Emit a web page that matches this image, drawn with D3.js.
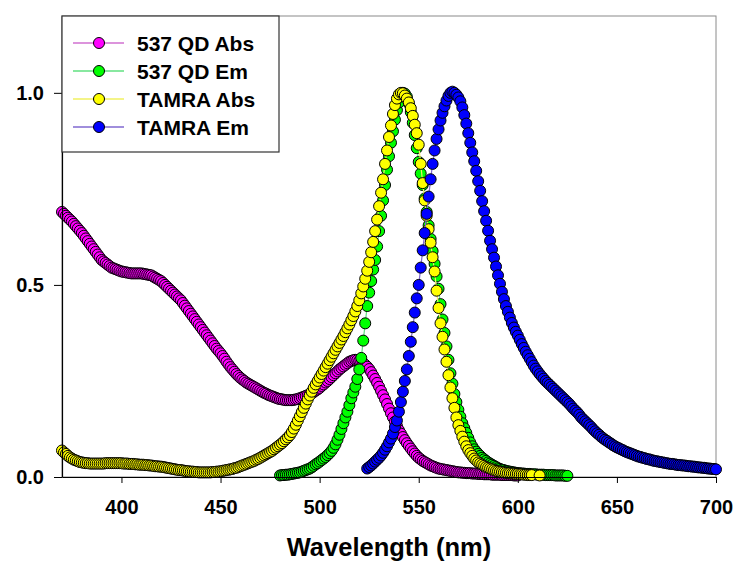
<!DOCTYPE html>
<html>
<head>
<meta charset="utf-8">
<script src="https://cdn.jsdelivr.net/npm/d3@7.9.0/dist/d3.min.js"></script>
<style>
  body { margin: 0; background: #fff; }
  svg text { font-family: "Liberation Sans", Arial, sans-serif; font-weight: bold; fill: #000; }
</style>
</head>
<body>
<svg id="chart" width="735" height="564"></svg>
<script>
// spectra, 1 nm steps (normalised intensity)
const qdAbsStart = 370;
const qdAbs = [
  0.690, 0.685, 0.680, 0.675, 0.670, 0.665, 0.659, 0.653, 0.647, 0.641,
  0.635, 0.628, 0.621, 0.614, 0.607, 0.600, 0.593, 0.586, 0.579, 0.572,
  0.565, 0.561, 0.557, 0.553, 0.549, 0.545, 0.543, 0.541, 0.539, 0.537,
  0.535, 0.534, 0.533, 0.532, 0.531, 0.530, 0.530, 0.530, 0.530, 0.530,
  0.530, 0.529, 0.528, 0.527, 0.526, 0.525, 0.522, 0.519, 0.516, 0.513,
  0.510, 0.505, 0.500, 0.495, 0.490, 0.485, 0.480, 0.475, 0.470, 0.465,
  0.460, 0.453, 0.446, 0.439, 0.432, 0.425, 0.418, 0.411, 0.404, 0.397,
  0.390, 0.383, 0.376, 0.369, 0.362, 0.355, 0.348, 0.341, 0.334, 0.328,
  0.322, 0.315, 0.308, 0.300, 0.293, 0.286, 0.280, 0.274, 0.268, 0.263,
  0.258, 0.254, 0.250, 0.246, 0.243, 0.240, 0.237, 0.234, 0.231, 0.228,
  0.225, 0.222, 0.219, 0.217, 0.214, 0.212, 0.210, 0.208, 0.206, 0.204,
  0.203, 0.202, 0.201, 0.200, 0.200, 0.200, 0.200, 0.201, 0.202, 0.203,
  0.205, 0.207, 0.209, 0.211, 0.213, 0.215, 0.218, 0.221, 0.225, 0.228,
  0.232, 0.237, 0.241, 0.246, 0.250, 0.255, 0.260, 0.265, 0.270, 0.275,
  0.280, 0.284, 0.288, 0.292, 0.296, 0.300, 0.302, 0.304, 0.305, 0.304,
  0.302, 0.299, 0.296, 0.292, 0.287, 0.281, 0.273, 0.264, 0.255, 0.245,
  0.235, 0.224, 0.213, 0.202, 0.190, 0.178, 0.166, 0.155, 0.144, 0.133,
  0.122, 0.113, 0.104, 0.096, 0.088, 0.081, 0.074, 0.067, 0.061, 0.055,
  0.050, 0.046, 0.042, 0.039, 0.036, 0.033, 0.030, 0.028, 0.026, 0.024,
  0.022, 0.021, 0.020, 0.019, 0.018, 0.017, 0.016, 0.015, 0.014, 0.013,
  0.012, 0.012, 0.011, 0.011, 0.010, 0.010, 0.010, 0.009, 0.009, 0.009,
  0.008, 0.008, 0.008, 0.007, 0.007, 0.007, 0.007, 0.006, 0.006, 0.006,
  0.006, 0.006, 0.005, 0.005, 0.005, 0.005, 0.005, 0.005, 0.004, 0.004,
  0.004
];

const qdEmStart = 480;
const qdEm = [
  0.004, 0.005, 0.005, 0.006, 0.006, 0.007, 0.008, 0.009, 0.010, 0.011,
  0.012, 0.014, 0.016, 0.018, 0.020, 0.022, 0.025, 0.029, 0.033, 0.036,
  0.040, 0.044, 0.048, 0.052, 0.057, 0.062, 0.068, 0.076, 0.085, 0.097,
  0.110, 0.125, 0.140, 0.155, 0.170, 0.187, 0.205, 0.220, 0.235, 0.255,
  0.280, 0.310, 0.355, 0.400, 0.445, 0.480, 0.510, 0.540, 0.565, 0.600,
  0.640, 0.680, 0.720, 0.760, 0.800, 0.835, 0.870, 0.900, 0.930, 0.955,
  0.975, 0.990, 1.000, 0.998, 0.990, 0.972, 0.950, 0.922, 0.890, 0.856,
  0.820, 0.790, 0.760, 0.725, 0.690, 0.655, 0.620, 0.588, 0.555, 0.522,
  0.490, 0.450, 0.410, 0.375, 0.340, 0.305, 0.270, 0.243, 0.216, 0.195,
  0.175, 0.157, 0.140, 0.127, 0.115, 0.102, 0.090, 0.080, 0.072, 0.066,
  0.060, 0.055, 0.050, 0.046, 0.042, 0.038, 0.035, 0.032, 0.029, 0.026,
  0.023, 0.021, 0.019, 0.018, 0.016, 0.015, 0.014, 0.013, 0.012, 0.011,
  0.010, 0.010, 0.009, 0.009, 0.008, 0.008, 0.008, 0.007, 0.007, 0.007,
  0.006, 0.006, 0.006, 0.006, 0.005, 0.005, 0.005, 0.005, 0.005, 0.004,
  0.004, 0.004, 0.004, 0.004, 0.003, 0.003
];

// TAMRA abs: 1 nm to 607, then one last point at 611
const tamraAbsWl = d3.range(370, 608).concat([611]);
const tamraAbs = [
  0.069, 0.064, 0.060, 0.055, 0.051, 0.048, 0.045, 0.043, 0.041, 0.039,
  0.038, 0.037, 0.036, 0.036, 0.035, 0.035, 0.035, 0.035, 0.035, 0.035,
  0.035, 0.035, 0.036, 0.036, 0.036, 0.036, 0.036, 0.036, 0.036, 0.036,
  0.036, 0.035, 0.035, 0.035, 0.034, 0.034, 0.034, 0.033, 0.033, 0.032,
  0.032, 0.032, 0.031, 0.031, 0.030, 0.030, 0.029, 0.028, 0.028, 0.027,
  0.027, 0.026, 0.025, 0.024, 0.023, 0.022, 0.021, 0.020, 0.019, 0.018,
  0.018, 0.017, 0.016, 0.015, 0.015, 0.014, 0.014, 0.013, 0.013, 0.012,
  0.012, 0.012, 0.012, 0.012, 0.012, 0.012, 0.013, 0.013, 0.014, 0.014,
  0.015, 0.016, 0.017, 0.018, 0.019, 0.020, 0.021, 0.023, 0.024, 0.026,
  0.028, 0.030, 0.032, 0.034, 0.036, 0.038, 0.040, 0.042, 0.045, 0.047,
  0.050, 0.053, 0.056, 0.059, 0.062, 0.065, 0.068, 0.072, 0.076, 0.080,
  0.084, 0.088, 0.093, 0.098, 0.103, 0.109, 0.117, 0.126, 0.136, 0.147,
  0.158, 0.169, 0.180, 0.191, 0.202, 0.212, 0.222, 0.232, 0.241, 0.250,
  0.259, 0.268, 0.277, 0.286, 0.295, 0.304, 0.313, 0.322, 0.331, 0.340,
  0.349, 0.358, 0.367, 0.377, 0.387, 0.397, 0.408, 0.419, 0.431, 0.445,
  0.460, 0.478, 0.496, 0.516, 0.537, 0.560, 0.585, 0.612, 0.640, 0.670,
  0.705, 0.740, 0.775, 0.815, 0.850, 0.885, 0.915, 0.945, 0.968, 0.985,
  0.996, 1.000, 0.999, 0.993, 0.985, 0.975, 0.960, 0.940, 0.917, 0.895,
  0.865, 0.815, 0.765, 0.720, 0.680, 0.645, 0.610, 0.572, 0.535, 0.485,
  0.440, 0.400, 0.365, 0.332, 0.300, 0.265, 0.233, 0.205, 0.180, 0.155,
  0.135, 0.120, 0.105, 0.092, 0.080, 0.070, 0.062, 0.055, 0.048, 0.043,
  0.038, 0.035, 0.032, 0.029, 0.026, 0.024, 0.022, 0.020, 0.018, 0.016,
  0.015, 0.014, 0.013, 0.012, 0.011, 0.010, 0.010, 0.009, 0.009, 0.008,
  0.008, 0.007, 0.007, 0.006, 0.006, 0.005, 0.005, 0.005,
  0.004
];

const tamraEmStart = 524;
const tamraEm = [
  0.022, 0.026, 0.030, 0.035, 0.040, 0.045,
  0.050, 0.056, 0.063, 0.071, 0.080, 0.090, 0.100, 0.113, 0.130, 0.147,
  0.170, 0.195, 0.222, 0.250, 0.280, 0.315, 0.352, 0.390, 0.428, 0.465,
  0.500, 0.545, 0.590, 0.635, 0.685, 0.730, 0.775, 0.815, 0.850, 0.880,
  0.905, 0.928, 0.948, 0.965, 0.980, 0.992, 1.000, 1.003, 1.000, 0.995,
  0.988, 0.978, 0.962, 0.942, 0.920, 0.895, 0.870, 0.845, 0.822, 0.797,
  0.770, 0.745, 0.718, 0.692, 0.667, 0.641, 0.615, 0.593, 0.571, 0.548,
  0.525, 0.503, 0.482, 0.463, 0.445, 0.430, 0.415, 0.401, 0.389, 0.378,
  0.368, 0.357, 0.346, 0.336, 0.326, 0.317, 0.308, 0.299, 0.290, 0.282,
  0.275, 0.268, 0.262, 0.256, 0.250, 0.245, 0.240, 0.235, 0.230, 0.225,
  0.220, 0.215, 0.210, 0.205, 0.200, 0.195, 0.190, 0.184, 0.178, 0.173,
  0.168, 0.162, 0.155, 0.150, 0.145, 0.140, 0.135, 0.130, 0.124, 0.119,
  0.114, 0.110, 0.105, 0.101, 0.097, 0.094, 0.090, 0.087, 0.083, 0.080,
  0.077, 0.075, 0.072, 0.070, 0.067, 0.065, 0.063, 0.061, 0.059, 0.057,
  0.055, 0.053, 0.052, 0.050, 0.049, 0.047, 0.046, 0.045, 0.043, 0.042,
  0.041, 0.040, 0.039, 0.038, 0.037, 0.036, 0.035, 0.034, 0.034, 0.033,
  0.032, 0.031, 0.031, 0.030, 0.030, 0.029, 0.028, 0.028, 0.027, 0.027,
  0.026, 0.025, 0.025, 0.024, 0.024, 0.023, 0.022, 0.022, 0.021, 0.021,
  0.020
];

const seriesNames = ['537 QD Abs', '537 QD Em', 'TAMRA Abs', 'TAMRA Em'];
const fillColors = ['#ff00ff', '#00ff00', '#ffff00', '#0000ff'];
const lineColors = ['#d070d0', '#60e080', '#f0f060', '#8068d0'];
const xTicks = [400, 450, 500, 550, 600, 650, 700];
const yTicks = [0, 0.5, 1.0];

const toPoints = (wl, vals) => vals.map((v, i) => ({ wl: wl[i], v }));
const series = [
  toPoints(d3.range(qdAbsStart, qdAbsStart + qdAbs.length), qdAbs),
  toPoints(d3.range(qdEmStart, qdEmStart + qdEm.length), qdEm),
  toPoints(tamraAbsWl, tamraAbs),
  toPoints(d3.range(tamraEmStart, tamraEmStart + tamraEm.length), tamraEm)
];

const svg = d3.select('#chart');
const x = d3.scaleLinear().domain([370, 700]).range([62, 716]);
const y = d3.scaleLinear().domain([0, 1.2]).range([477, 16]);

// frame
svg.append('rect')
  .attr('x', 62).attr('y', 16)
  .attr('width', 716 - 62).attr('height', 477 - 16)
  .attr('fill', 'none').attr('stroke', '#8a8a8a').attr('stroke-width', 1);

const line = d3.line().x(d => x(d.wl)).y(d => y(d.v));

series.forEach((pts, i) => {
  const g = svg.append('g');
  g.append('path')
    .attr('d', line(pts))
    .attr('fill', 'none')
    .attr('stroke', lineColors[i])
    .attr('stroke-width', 1.2);
  g.selectAll('circle')
    .data(pts)
    .join('circle')
    .attr('cx', d => x(d.wl))
    .attr('cy', d => y(d.v))
    .attr('r', 5.5)
    .attr('fill', fillColors[i])
    .attr('stroke', '#000')
    .attr('stroke-width', 1);
});

// axes
const xAxis = svg.append('g')
  .attr('transform', 'translate(0,477)')
  .call(d3.axisBottom(x).tickValues(xTicks).tickFormat(d3.format('d'))
    .tickSize(6).tickSizeOuter(0).tickPadding(17));
const yAxis = svg.append('g')
  .attr('transform', 'translate(62,0)')
  .call(d3.axisLeft(y).tickValues(yTicks).tickFormat(d3.format('.1f'))
    .tickSize(8).tickSizeOuter(0).tickPadding(10));

[xAxis, yAxis].forEach(a => {
  a.selectAll('path.domain').attr('stroke', '#000').attr('stroke-width', 1.2);
  a.selectAll('.tick line').attr('stroke', '#000');
  a.selectAll('.tick text')
    .attr('font-family', '"Liberation Sans", Arial, sans-serif')
    .attr('font-weight', 'bold')
    .attr('font-size', 20)
    .attr('fill', '#000');
});

svg.append('text')
  .attr('x', 389).attr('y', 556)
  .attr('text-anchor', 'middle')
  .attr('font-size', 25.5)
  .text('Wavelength (nm)');

// legend
const legend = svg.append('g');
legend.append('rect')
  .attr('x', 62).attr('y', 16)
  .attr('width', 217).attr('height', 136)
  .attr('fill', '#fff').attr('stroke', '#333').attr('stroke-width', 1.2);

const rows = legend.selectAll('g.row')
  .data(seriesNames)
  .join('g')
  .attr('class', 'row')
  .attr('transform', (_, i) => `translate(0,${43 + i * 28})`);

rows.append('line')
  .attr('x1', 73).attr('x2', 124)
  .attr('stroke', (_, i) => lineColors[i]).attr('stroke-width', 1.5);
rows.append('circle')
  .attr('cx', 99).attr('r', 5.5)
  .attr('fill', (_, i) => fillColors[i])
  .attr('stroke', '#000').attr('stroke-width', 1);
rows.append('text')
  .attr('x', 137).attr('dy', '0.36em')
  .attr('font-size', 21)
  .text(d => d);
</script>
</body>
</html>
